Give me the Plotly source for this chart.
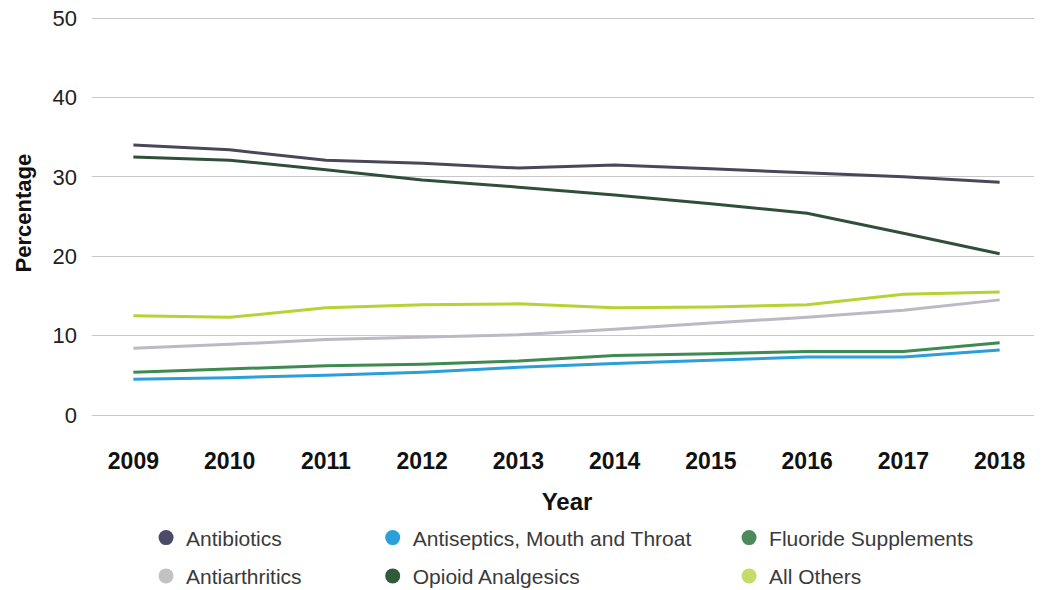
import plotly.graph_objects as go

years = ['2009', '2010', '2011', '2012', '2013', '2014', '2015', '2016', '2017', '2018']

antibiotics = [34.0, 33.4, 32.1, 31.7, 31.1, 31.5, 31.0, 30.5, 30.0, 29.3]
opioid_analgesics = [32.5, 32.1, 30.9, 29.6, 28.7, 27.7, 26.6, 25.4, 22.9, 20.3]
all_others = [12.5, 12.3, 13.5, 13.9, 14.0, 13.5, 13.6, 13.9, 15.2, 15.5]
antiarthritics = [8.4, 8.9, 9.5, 9.8, 10.1, 10.8, 11.6, 12.3, 13.2, 14.5]
fluoride = [5.4, 5.8, 6.2, 6.4, 6.8, 7.5, 7.7, 8.0, 8.0, 9.1]
antiseptics = [4.5, 4.7, 5.0, 5.4, 6.0, 6.5, 6.9, 7.3, 7.3, 8.2]

# name, values, line colour, legend dot colour, which legend column
series = [
    ('Antibiotics', antibiotics, '#4a4759', '#4b4a68', 'legend'),
    ('Antiarthritics', antiarthritics, '#bcb8c4', '#c2c2c2', 'legend'),
    ('Antiseptics, Mouth and Throat', antiseptics, '#2b9fd9', '#2b9fd9', 'legend2'),
    ('Opioid Analgesics', opioid_analgesics, '#2f4f3a', '#2f5a3c', 'legend2'),
    ('Fluoride Supplements', fluoride, '#3f8a50', '#4c8a5c', 'legend3'),
    ('All Others', all_others, '#b5d333', '#c4dc6a', 'legend3'),
]

x = list(range(len(years)))
fig = go.Figure()

# lines first
for name, vals, col, dot, leg in series:
    fig.add_trace(go.Scatter(x=x, y=vals, mode='lines', name=name,
                             line=dict(color=col, width=3),
                             showlegend=False, hoverinfo='x+y+name'))

# legend entries drawn as dots
for i, (name, vals, col, dot, leg) in enumerate(series):
    fig.add_trace(go.Scatter(x=[None], y=[None], mode='markers', name=name,
                             marker=dict(color=dot, size=15),
                             legend=leg, legendgroup=f'g{i}'))

legend_style = dict(orientation='v', xref='container', yref='container',
                    xanchor='left', yanchor='top', y=0.1365,
                    itemwidth=30, tracegroupgap=8,
                    font=dict(family='Liberation Sans, Arial', size=21, color='#3a3a3a'),
                    bgcolor='rgba(0,0,0,0)')

fig.update_layout(
    width=1042, height=590,
    margin=dict(l=84, r=8, t=7, b=183, autoexpand=False),
    plot_bgcolor='white', paper_bgcolor='white',
    font=dict(family='Liberation Sans, Arial', color='#222'),
    legend=dict(x=0.1325, **legend_style),
    legend2=dict(x=0.350, **legend_style),
    legend3=dict(x=0.692, **legend_style),
    xaxis=dict(
        range=[-0.43, 9.44], tickmode='array', tickvals=x, ticktext=years,
        showgrid=False, zeroline=False, showline=False, tickangle=0,
        ticklabelstandoff=30,
        tickfont=dict(size=23, color='#111', weight='bold'),
        title=dict(text='Year', standoff=20,
                   font=dict(size=24, color='#111', weight='bold')),
    ),
    yaxis=dict(
        range=[0, 50.38], tickvals=[0, 10, 20, 30, 40, 50],
        showgrid=True, gridcolor='#c8c8c8', gridwidth=1.2,
        zeroline=True, zerolinecolor='#c8c8c8', zerolinewidth=1.2,
        ticklabelstandoff=14, ticklabeloverflow='allow',
        tickfont=dict(size=22, color='#222'),
    ),
    annotations=[dict(
        text='Percentage', textangle=-90, showarrow=False,
        xref='paper', yref='paper', x=-0.0726, y=0.504,
        xanchor='center', yanchor='middle',
        font=dict(family='Liberation Sans, Arial', size=22, color='#111', weight='bold'),
    )],
)

fig.write_html('out.html')
